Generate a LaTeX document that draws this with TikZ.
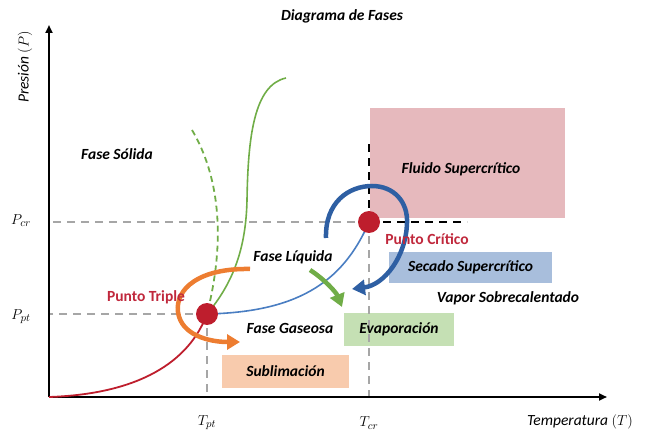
\documentclass[tikz,border=0pt]{standalone}
\usepackage{fontspec}
\setmainfont{Carlito}
\usepackage{xcolor}
\usetikzlibrary{arrows.meta}
\definecolor{customred}{HTML}{BE1E2D}
\definecolor{customtext}{HTML}{C0283C}
\definecolor{customblue}{HTML}{2E5FA3}
\definecolor{customthin}{HTML}{4A7EC2}
\definecolor{customgreen}{HTML}{70AD47}
\definecolor{customorange}{HTML}{ED7D31}
\definecolor{customgrey}{HTML}{A6A6A6}
\definecolor{customcolor1}{HTML}{E6B9BD}
\definecolor{customcolor2}{HTML}{A8BEDC}
\definecolor{customcolor3}{HTML}{C5E0B4}
\definecolor{customcolor4}{HTML}{F8CBAD}

\tikzset{
    phasetext/.style = {font = \fontsize{15.5pt}{18pt}\selectfont\bfseries\itshape},
    pointtext/.style = {font = \fontsize{15.5pt}{18pt}\selectfont\bfseries, text = customtext},
    axistext/.style = {font = \fontsize{15.5pt}{18pt}\selectfont\itshape},
    regionbox/.style = {rectangle, inner sep = 0pt},
    dot/.style = {circle, fill = customred, minimum size = 22pt, inner sep = 0pt},
    guide/.style = {customgrey, line width = 1.8pt, dash pattern = on 8pt off 6pt},
    bound/.style = {black, line width = 1.8pt, dash pattern = on 8pt off 6pt},
    bigarrow/.style = {line width = 4.5pt, -{Triangle[length = 13pt, width = 15pt]}}
}

\begin{document}
\begin{tikzpicture}

        \useasboundingbox (-49pt, -37pt) rectangle (596pt, 397pt);

        \coordinate (o) at (0pt, 0pt);
        \coordinate (ytop) at (0pt, 372pt);
        \coordinate (xend) at (558pt, 0pt);

        % Regions
        \node [regionbox, fill = customcolor1, minimum width = 195pt, minimum height = 110pt] (fluid) at (418.5pt, 234pt) {};
        \node [regionbox, fill = customcolor2, minimum width = 163pt, minimum height = 31pt] (dry) at (421.5pt, 129.5pt) {};
        \node [regionbox, fill = customcolor3, minimum width = 110pt, minimum height = 33pt] (evap) at (350pt, 67.5pt) {};
        \node [regionbox, fill = customcolor4, minimum width = 127pt, minimum height = 33pt] (subl) at (236.5pt, 25.5pt) {};

        % Points
        \coordinate (tpc) at (158pt, 83pt);
        \coordinate (cpc) at (320pt, 175pt);

        % Guides
        \draw [guide] (tpc) -- (tpc -| o);
        \draw [guide] (tpc) -- (tpc |- o);
        \draw [guide] (cpc) -- (cpc -| o);
        \draw [guide] (cpc) -- (cpc |- o);
        \draw [bound] (cpc) -- ++(0pt, 80pt);
        \draw [bound] (cpc) -- ++(98pt, 0pt);

        % Axes
        \draw [line width = 2pt, -{Triangle[length = 8pt, width = 7pt]}] (o) -- (ytop);
        \draw [line width = 2pt, -{Triangle[length = 8pt, width = 7pt]}] (o) -- (xend);

        % Curves
        \draw [customred, line width = 1.8pt] (o) .. controls (90pt, 3pt) and (140pt, 35pt) .. (tpc);
        \draw [customthin, line width = 1.6pt] (tpc) .. controls (245pt, 85pt) and (293pt, 112pt) .. (cpc);
        \draw [customgreen, line width = 1.6pt] (tpc) .. controls (185pt, 115pt) and (197pt, 150pt) .. (198pt, 197pt) .. controls (199pt, 260pt) and (205pt, 312pt) .. (237pt, 319pt);
        \draw [customgreen, line width = 1.8pt, dash pattern = on 6pt off 4pt] (143pt, 267pt) .. controls (165pt, 230pt) and (180pt, 170pt) .. (tpc);

        % Arrows
        \draw [bigarrow, customorange] (201pt, 128pt) .. controls (150pt, 129pt) and (126pt, 108pt) .. (129pt, 85pt) .. controls (132pt, 62pt) and (160pt, 55pt) .. (191pt, 55pt);
        \draw [bigarrow, customblue] (277pt, 159pt) .. controls (276pt, 195pt) and (300pt, 211pt) .. (323pt, 211pt) .. controls (345pt, 211pt) and (359pt, 195pt) .. (358pt, 174pt) .. controls (357pt, 140pt) and (335pt, 112pt) .. (303pt, 108pt);
        \draw [bigarrow, customgreen] (261pt, 127pt) .. controls (275pt, 118pt) and (287pt, 105pt) .. (293pt, 90pt);

        \node [dot] (tp) at (tpc) {};
        \node [dot] (cp) at (cpc) {};

        % Labels
        \node [phasetext] (title) at (293pt, 381pt) {Diagrama de Fases};
        \node [axistext, rotate = 90] (ylabel) at (-24pt, 330pt) {Presión $(P)$};
        \node [axistext] (xlabel) at (531pt, -25pt) {Temperatura $(T)$};
        \node [axistext] (tpt) at (tp |- 0pt, -26pt) {$T_{pt}$};
        \node [axistext] (tcr) at (cp |- 0pt, -26pt) {$T_{cr}$};
        \node [axistext] (pcr) at (-28pt, 176pt) {$P_{cr}$};
        \node [axistext] (ppt) at (-28pt, 80pt) {$P_{pt}$};

        \node [phasetext] (solid) at (68pt, 243pt) {Fase Sólida};
        \node [phasetext] (liquid) at (244pt, 140pt) {Fase Líquida};
        \node [phasetext] (gas) at (241pt, 69pt) {Fase Gaseosa};
        \node [phasetext] (vapor) at (459pt, 99pt) {Vapor Sobrecalentado};
        \node [phasetext] (fluidtext) at (412pt, 228pt) {Fluido Supercrítico};
        \node [phasetext] (drytext) at (dry) {Secado Supercrítico};
        \node [phasetext] (evaptext) at (evap) {Evaporación};
        \node [phasetext] (subltext) at (subl) {Sublimación};
        \node [pointtext] (triple) at (97pt, 100pt) {Punto Triple};
        \node [pointtext] (critical) at (378pt, 158pt) {Punto Crítico};

    \end{tikzpicture}
\end{document}
